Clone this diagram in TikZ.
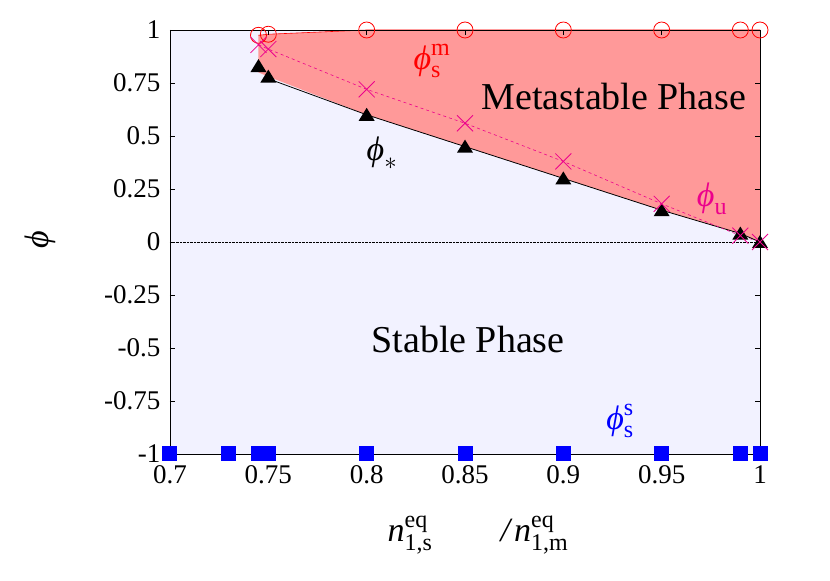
\documentclass[tikz,border=0pt]{standalone}
\usepackage{fontspec}
\setmainfont{Liberation Serif}
\newcommand{\ph}{\mbox{\itshape ϕ}}
\newcommand{\sm}[1]{\mbox{\fontsize{24}{24}\selectfont #1}}
\begin{document}
\begin{tikzpicture}[x=1pt,y=1pt,
  lab/.style={font=\fontsize{27}{30}\selectfont},
  big/.style={font=\fontsize{38}{42}\selectfont},
  gr/.style={font=\fontsize{34}{38}\selectfont},
  sq/.style={fill=blue,inner sep=0,minimum size=15pt},
  ci/.style={draw=red,thick,circle,inner sep=0,minimum size=16pt},
  cr/.style={magenta,thick}]
\useasboundingbox (0,0) rectangle (830,581);
\begin{scope}[x=1966.67pt,y=212pt,shift={(-1206.67pt,339pt)}]
\fill[blue!5] (0.7,-1) rectangle (1,1);
\fill[red!40] (0.745,0.975) -- (0.75,0.98) -- (0.8,1) -- (1,1) -- (1,0) -- (0.99,0.04) -- (0.95,0.15) -- (0.9,0.3) -- (0.85,0.45) -- (0.8,0.6) -- (0.75,0.78) -- (0.745,0.8) -- cycle;
\draw[densely dotted,thin] (0.7,0) -- (1,0);
\draw[red,semithick] (0.745,0.975) -- (0.75,0.98) -- (0.8,1) -- (1,1);
\draw[thick] (0.75,0.77) -- (0.8,0.6) -- (0.85,0.45) -- (0.9,0.3) -- (0.95,0.15) -- (0.99,0.04) -- (1,0);
\draw[magenta,dashed,semithick] (0.745,0.93) -- (0.75,0.91) -- (0.8,0.72) -- (0.85,0.56) -- (0.9,0.38) -- (0.95,0.18) -- (0.99,0.03) -- (1,0);
\draw[blue!50!black,semithick] (0.7,-1) -- (1,-1);
\draw[semithick] (0.7,-1) rectangle (1,1);
\foreach \t/\l in {1/1,0.75/0.75,0.5/0.5,0.25/0.25,0/0,-0.25/-0.25,-0.5/-0.5,-0.75/-0.75,-1/-1}{
  \draw (0.7,\t) -- ++(5pt,0);
  \draw (1,\t) -- ++(-5pt,0);
  \node[lab,anchor=east] (yt\l) at ([xshift=-6pt]0.7,\t) {\l};}
\foreach \t in {0.7,0.75,0.8,0.85,0.9,0.95,1}{
  \draw (\t,-1) -- ++(0,5pt);
  \draw (\t,1) -- ++(0,-5pt);
  \node[lab,anchor=north] (xt\t) at ([yshift=-8pt]\t,-1) {\t};}
\foreach \a in {0.7,0.73,0.745,0.75,0.8,0.85,0.9,0.95,0.99,1}
  \node[sq] (s\a) at (\a,-1) {};
\foreach \a/\b in {0.745/0.975,0.75/0.98,0.8/1,0.85/1,0.9/1,0.95/1,0.99/1,1/1}
  \node[ci] (c\a) at (\a,\b) {};
\foreach \a/\b in {0.745/0.83,0.75/0.78,0.8/0.6,0.85/0.45,0.9/0.3,0.95/0.15,0.99/0.04,1/0}
  \fill (\a,\b) ++(0,7pt) -- ++(-8pt,-13pt) -- ++(16pt,0) -- cycle;
\foreach \a/\b in {0.745/0.93,0.75/0.91,0.8/0.72,0.85/0.56,0.9/0.38,0.95/0.18,0.99/0.03,1/0}
  \draw[cr] (\a,\b) ++(-8pt,-8pt) -- ++(16pt,16pt) ++(-16pt,0) -- ++(16pt,-16pt);
\end{scope}
\node[big] (mp) at (614,484) {Metastable Phase};
\node[big] (sp) at (468,241) {Stable Phase};
\node[gr,red] (pm) at (432,520) {$\ph^{\sm{m}}_{\sm{s}}$};
\node[gr] (ps) at (382,428) {$\ph_{*}$};
\node[gr,magenta] (pu) at (712,382) {$\ph_{\sm{u}}$};
\node[gr,blue] (pss) at (620,160) {$\ph^{\sm{s}}_{\sm{s}}$};
\node[gr,rotate=90] (yl) at (40,341) {\ph};
\node[gr] (xl) at (478,46) {$\mbox{\itshape n}^{\sm{eq}}_{\sm{1,s}}\qquad\mbox{\itshape /}\,\mbox{\itshape n}^{\sm{eq}}_{\sm{1,m}}$};
\end{tikzpicture}
\end{document}
